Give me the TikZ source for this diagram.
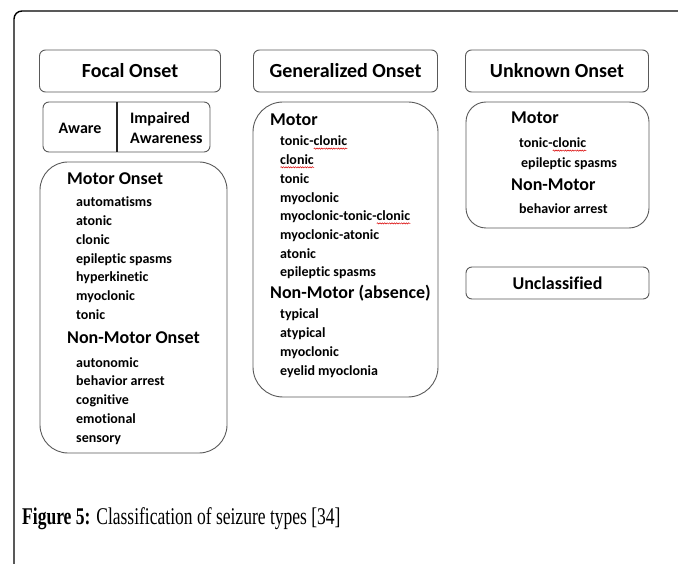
\documentclass[tikz,border=0pt]{standalone}
\usepackage{fontspec}
\setmainfont{Liberation Serif}
\newfontfamily\boxfnt[Ligatures=NoCommon]{Carlito}
\usetikzlibrary{decorations.pathmorphing}

\begin{document}
\begin{tikzpicture}[x=1pt,y=-1pt,
  frame/.style={draw=black!65,line width=0.9pt},
  head/.style={frame,rounded corners=6pt,inner sep=0pt,font=\boxfnt\bfseries\fontsize{20}{24}\selectfont},
  group/.style={anchor=base west,inner sep=0pt,font=\boxfnt\bfseries\fontsize{18}{22}\selectfont},
  item/.style={anchor=base west,inner sep=0pt,font=\boxfnt\bfseries\fontsize{14}{17}\selectfont},
  spell/.style={draw=red!85!black,line width=0.5pt,decorate,decoration={snake,amplitude=0.6pt,segment length=2.4pt}}]
\useasboundingbox (0,0) rectangle (678,564);

% page frame
\draw[line width=1.4pt,rounded corners=8pt] (14,580) -- (14,11) -- (690,11);

% column heads
\node[head,minimum width=181pt,minimum height=42pt] (focal) at (130,71) {Focal Onset};
\node[head,minimum width=184pt,minimum height=42pt] (gen) at (345.5,71) {Generalized Onset};
\node[head,minimum width=183pt,minimum height=42pt] (unknown) at (557,71) {Unknown Onset};

% focal onset
\node[frame,rounded corners=6pt,minimum width=167pt,minimum height=50pt] (awarebox) at (126.5,127) {};
\draw[line width=1.1pt,black!85] (117,102) -- (117,152);
\node[inner sep=0pt,font=\boxfnt\bfseries\fontsize{16}{20}\selectfont] (aware) at (80,128) {Aware};
\node[anchor=west,align=left,inner sep=0pt,font=\boxfnt\bfseries\fontsize{16}{20}\selectfont] (impaired) at (130,128) {Impaired\\Awareness};

\draw[frame,rounded corners=28pt] (40,162) rectangle (227,453);
\node[group] (fmotor) at (67,185) {Motor Onset};
\foreach \t [count=\i from 0] in {automatisms,atonic,clonic,epileptic spasms,hyperkinetic,myoclonic,tonic}
  \node[item] (fm\i) at (76,207+18.67*\i) {\t};
\node[group] (fnonmotor) at (67,344) {Non-Motor Onset};
\foreach \t [count=\i from 0] in {autonomic,behavior arrest,cognitive,emotional,sensory}
  \node[item] (fn\i) at (76,367+18.75*\i) {\t};

% generalized onset
\draw[frame,rounded corners=30pt] (253,102) rectangle (438,397);
\node[group] (gmotor) at (270,126) {Motor};
\foreach \t [count=\i from 0] in {tonic-clonic,clonic,tonic,myoclonic,myoclonic-tonic-clonic,myoclonic-atonic,atonic,epileptic spasms}
  \node[item] (gm\i) at (280,146+18.7*\i) {\t};
\node[group] (gnonmotor) at (270,299) {Non-Motor (absence)};
\foreach \t [count=\i from 0] in {typical,atypical,myoclonic,eyelid myoclonia}
  \node[item] (gn\i) at (280,319+18.67*\i) {\t};

% unknown onset
\draw[frame,rounded corners=20pt] (466,102) rectangle (649,228);
\node[group] (umotor) at (511,124) {Motor};
\node[item] (um0) at (519,148) {tonic-clonic};
\node[item] (um1) at (521,168) {epileptic spasms};
\node[group] (unonmotor) at (511,191) {Non-Motor};
\node[item] (un0) at (519,214) {behavior arrest};

\node[frame,rounded corners=6pt,minimum width=183pt,minimum height=32pt,inner sep=0pt,font=\boxfnt\bfseries\fontsize{18}{22}\selectfont] (uncl) at (557.5,283) {Unclassified};

% spell-check marks under "clonic"
\foreach \n in {gm0,gm1,gm4,um0}
  \draw[spell] ([xshift=-33.6pt,yshift=-2.6pt]\n.base east) -- ([yshift=-2.6pt]\n.base east);

% caption
\node[anchor=base west,inner sep=0pt] (caption) at (22,524) {\scalebox{0.73}[1]{\fontsize{24}{28}\selectfont\textbf{Figure 5:} Classification of seizure types [34]}};
\end{tikzpicture}
\end{document}
